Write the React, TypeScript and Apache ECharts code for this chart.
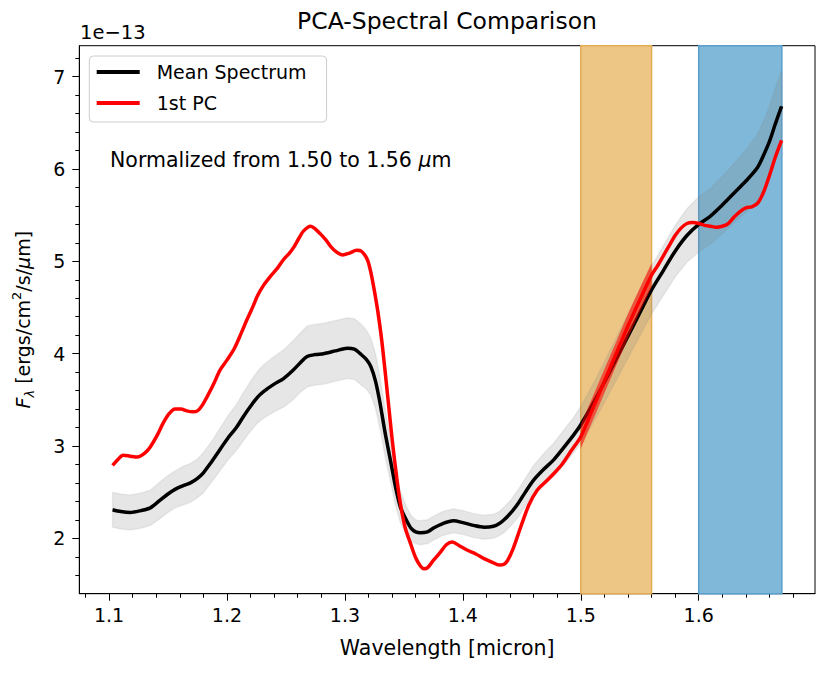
import React, { useEffect, useRef } from "react";
import * as echarts from "echarts";

// Mean spectrum (black) – wavelength [micron], flux [1e-13], 1-sigma half width
const meanWl = [1.103, 1.110, 1.118, 1.127, 1.135, 1.143, 1.150, 1.156, 1.163, 1.169, 1.175, 1.180, 1.187, 1.194, 1.201, 1.208, 1.214, 1.220, 1.226, 1.231, 1.240, 1.248, 1.256, 1.262, 1.268, 1.275, 1.282, 1.292, 1.302, 1.308, 1.313, 1.318, 1.322, 1.326, 1.330, 1.334, 1.339, 1.343, 1.347, 1.352, 1.356, 1.360, 1.364, 1.370, 1.375, 1.383, 1.392, 1.400, 1.409, 1.418, 1.426, 1.431, 1.435, 1.441, 1.447, 1.453, 1.460, 1.468, 1.477, 1.486, 1.494, 1.500, 1.510, 1.520, 1.530, 1.540, 1.550, 1.560, 1.570, 1.580, 1.590, 1.600, 1.610, 1.620, 1.630, 1.640, 1.650, 1.655, 1.660, 1.665, 1.6703];
const meanFlux = [2.31, 2.29, 2.28, 2.30, 2.33, 2.41, 2.48, 2.53, 2.57, 2.60, 2.65, 2.71, 2.83, 2.96, 3.09, 3.20, 3.32, 3.43, 3.53, 3.59, 3.67, 3.73, 3.82, 3.90, 3.97, 3.99, 4.00, 4.03, 4.06, 4.05, 4.00, 3.94, 3.86, 3.70, 3.45, 3.15, 2.82, 2.55, 2.34, 2.20, 2.11, 2.07, 2.06, 2.07, 2.11, 2.16, 2.19, 2.17, 2.14, 2.12, 2.13, 2.16, 2.20, 2.28, 2.38, 2.50, 2.63, 2.74, 2.85, 2.99, 3.12, 3.23, 3.45, 3.69, 3.94, 4.19, 4.44, 4.69, 4.90, 5.11, 5.28, 5.40, 5.49, 5.61, 5.74, 5.87, 6.02, 6.15, 6.30, 6.49, 6.68];
const meanSigma = [0.19, 0.19, 0.19, 0.19, 0.19, 0.20, 0.20, 0.20, 0.21, 0.21, 0.21, 0.22, 0.22, 0.23, 0.24, 0.25, 0.26, 0.27, 0.28, 0.29, 0.30, 0.31, 0.32, 0.32, 0.33, 0.33, 0.33, 0.33, 0.33, 0.33, 0.33, 0.32, 0.31, 0.30, 0.28, 0.26, 0.23, 0.20, 0.17, 0.15, 0.14, 0.13, 0.13, 0.13, 0.13, 0.13, 0.13, 0.13, 0.13, 0.13, 0.13, 0.13, 0.14, 0.14, 0.15, 0.15, 0.16, 0.17, 0.18, 0.19, 0.19, 0.20, 0.21, 0.22, 0.23, 0.24, 0.25, 0.26, 0.27, 0.28, 0.29, 0.30, 0.30, 0.31, 0.32, 0.34, 0.36, 0.37, 0.38, 0.39, 0.39];

// First principal component (red)
const pcWl = [1.103, 1.108, 1.112, 1.118, 1.124, 1.130, 1.135, 1.141, 1.146, 1.151, 1.156, 1.161, 1.166, 1.171, 1.175, 1.179, 1.183, 1.189, 1.194, 1.200, 1.206, 1.212, 1.217, 1.222, 1.226, 1.231, 1.237, 1.243, 1.248, 1.253, 1.257, 1.261, 1.265, 1.271, 1.275, 1.279, 1.284, 1.288, 1.293, 1.298, 1.304, 1.310, 1.314, 1.319, 1.322, 1.325, 1.328, 1.331, 1.334, 1.337, 1.340, 1.344, 1.347, 1.351, 1.356, 1.360, 1.364, 1.367, 1.370, 1.375, 1.381, 1.386, 1.391, 1.397, 1.404, 1.411, 1.418, 1.425, 1.431, 1.435, 1.438, 1.443, 1.449, 1.456, 1.463, 1.470, 1.477, 1.484, 1.492, 1.500, 1.510, 1.520, 1.530, 1.540, 1.550, 1.560, 1.565, 1.570, 1.575, 1.580, 1.585, 1.590, 1.595, 1.600, 1.605, 1.610, 1.615, 1.620, 1.625, 1.630, 1.635, 1.640, 1.645, 1.650, 1.655, 1.660, 1.665, 1.6703];
const pcFlux = [2.79, 2.86, 2.90, 2.89, 2.88, 2.92, 2.99, 3.12, 3.25, 3.35, 3.40, 3.40, 3.38, 3.37, 3.38, 3.44, 3.53, 3.68, 3.82, 3.93, 4.05, 4.22, 4.37, 4.51, 4.63, 4.74, 4.84, 4.93, 5.02, 5.09, 5.16, 5.25, 5.33, 5.38, 5.35, 5.30, 5.23, 5.16, 5.10, 5.07, 5.09, 5.12, 5.11, 5.02, 4.88, 4.68, 4.45, 4.17, 3.82, 3.45, 3.08, 2.65, 2.38, 2.12, 1.93, 1.79, 1.70, 1.67, 1.68, 1.76, 1.85, 1.93, 1.96, 1.92, 1.87, 1.83, 1.78, 1.74, 1.71, 1.72, 1.76, 1.90, 2.12, 2.36, 2.52, 2.61, 2.70, 2.80, 2.95, 3.10, 3.40, 3.70, 4.00, 4.30, 4.58, 4.85, 4.95, 5.06, 5.17, 5.28, 5.36, 5.41, 5.42, 5.41, 5.39, 5.38, 5.37, 5.38, 5.41, 5.48, 5.54, 5.58, 5.59, 5.63, 5.75, 5.93, 6.13, 6.31];

// 1st PC uncertainty band, only shown over the normalisation window
const pcBandWl = [1.500, 1.510, 1.520, 1.530, 1.540, 1.550, 1.560];
const pcBandLo = [2.97, 3.27, 3.57, 3.87, 4.17, 4.45, 4.72];
const pcBandHi = [3.23, 3.53, 3.83, 4.13, 4.43, 4.71, 4.98];

// Shaded wavelength windows
const normWindow = [1.50, 1.56];
const fitWindow = [1.60, 1.6705];

// Axis ticks / ranges
const xTickValues = [1.1, 1.2, 1.3, 1.4, 1.5, 1.6];
const yTickValues = [2, 3, 4, 5, 6, 7];
const xRange = [1.0748, 1.6986];
const yRange = [1.40, 7.336];

const FONT = "'DejaVu Sans', sans-serif";

function bandSeries(wl: number[], lo: number[], hi: number[], style: any, z: number) {
  return {
    type: "custom",
    silent: true,
    z,
    clip: true,
    data: [[wl[0], lo[0]]],
    renderItem: (params: any, api: any) => {
      if (params.dataIndex !== 0) return null;
      const pts: number[][] = [];
      for (let i = 0; i < wl.length; i++) pts.push(api.coord([wl[i], hi[i]]));
      for (let i = wl.length - 1; i >= 0; i--) pts.push(api.coord([wl[i], lo[i]]));
      return { type: "polygon", shape: { points: pts }, style };
    },
  };
}

export default function App() {
  const ref = useRef<HTMLDivElement>(null);

  useEffect(() => {
    document.body.style.margin = "0";
    const chart = echarts.init(ref.current!, null, { renderer: "svg" });

    const meanLo = meanWl.map((_, i) => +(meanFlux[i] - meanSigma[i]).toFixed(3));
    const meanHi = meanWl.map((_, i) => +(meanFlux[i] + meanSigma[i]).toFixed(3));
    const meanLine = meanWl.map((x, i) => [x, meanFlux[i]]);
    const pcLine = pcWl.map((x, i) => [x, pcFlux[i]]);

    const option: any = {
      animation: false,
      backgroundColor: "#fff",
      textStyle: { fontFamily: FONT },
      grid: {
        left: 79.3,
        right: 15,
        top: 45.7,
        bottom: 80.3,
        show: true,
        borderColor: "#000",
        borderWidth: 1,
        backgroundColor: "transparent",
      },
      legend: {
        data: ["Mean Spectrum", "1st PC"],
        orient: "vertical",
        left: 89.3,
        top: 56,
        icon: "rect",
        itemWidth: 43,
        itemHeight: 4,
        itemGap: 9,
        padding: [5, 20, 8, 7.4],
        backgroundColor: "rgba(255,255,255,0.8)",
        borderColor: "#cccccc",
        borderWidth: 1,
        borderRadius: 4,
        itemStyle: { borderWidth: 0 },
        textStyle: {
          fontFamily: FONT,
          fontSize: 19,
          color: "#000",
          lineHeight: 22,
          padding: [0, 0, 0, 12],
        },
      },
      xAxis: {
        type: "value",
        min: xRange[0],
        max: xRange[1],
        splitLine: { show: false },
        axisLine: { show: true, onZero: false, lineStyle: { color: "#000", width: 1 } },
        axisTick: {
          show: true,
          length: 7,
          customValues: xTickValues,
          lineStyle: { color: "#000", width: 1 },
        },
        minorTick: { show: true, splitNumber: 5, length: 4, lineStyle: { color: "#000", width: 1 } },
        axisLabel: {
          customValues: xTickValues,
          fontFamily: FONT,
          fontSize: 19,
          color: "#000",
          margin: 12,
          formatter: (v: number) => v.toFixed(1),
        },
        name: "Wavelength [micron]",
        nameLocation: "middle",
        nameGap: 44,
        nameTextStyle: { fontFamily: FONT, fontSize: 20.5, color: "#000" },
      },
      yAxis: {
        type: "value",
        min: yRange[0],
        max: yRange[1],
        splitLine: { show: false },
        axisLine: { show: true, onZero: false, lineStyle: { color: "#000", width: 1 } },
        axisTick: {
          show: true,
          length: 7,
          customValues: yTickValues,
          lineStyle: { color: "#000", width: 1 },
        },
        minorTick: { show: true, splitNumber: 5, length: 4, lineStyle: { color: "#000", width: 1 } },
        axisLabel: {
          customValues: yTickValues,
          fontFamily: FONT,
          fontSize: 19,
          color: "#000",
          margin: 14,
          formatter: (v: number) => String(Math.round(v)),
        },
        name: "{i|F}{sub|λ}{n| [ergs/cm}{sup|2}{n|/s/}{i|μ}{n|m]}",
        nameLocation: "middle",
        nameRotate: 90,
        nameGap: 43,
        nameTextStyle: {
          fontFamily: FONT,
          color: "#000",
          rich: {
            n: { fontFamily: FONT, fontSize: 19, lineHeight: 26, color: "#000", verticalAlign: "middle" },
            i: { fontFamily: FONT, fontSize: 19, lineHeight: 26, color: "#000", fontStyle: "italic", verticalAlign: "middle" },
            sub: { fontFamily: FONT, fontSize: 13, lineHeight: 12, color: "#000", fontStyle: "italic", verticalAlign: "bottom" },
            sup: { fontFamily: FONT, fontSize: 13, lineHeight: 14, color: "#000", verticalAlign: "top" },
          },
        },
      },
      graphic: [
        {
          type: "text",
          x: 447,
          y: 21,
          style: {
            text: "PCA-Spectral Comparison",
            fontFamily: FONT,
            fontSize: 23.5,
            fill: "#000",
            textAlign: "center",
            textVerticalAlign: "middle",
          },
        },
        {
          type: "text",
          x: 80,
          y: 32,
          style: {
            text: "1e\u221213",
            fontFamily: FONT,
            fontSize: 19.5,
            fill: "#000",
            textAlign: "left",
            textVerticalAlign: "middle",
          },
        },
        {
          type: "text",
          x: 110,
          y: 160,
          z: 10,
          style: {
            text: "{n|Normalized from 1.50 to 1.56 }{i|μ}{n|m}",
            fontFamily: FONT,
            fontSize: 20.5,
            fill: "#000",
            textAlign: "left",
            textVerticalAlign: "middle",
            rich: {
              n: { fontFamily: FONT, fontSize: 20.5, fill: "#000" },
              i: { fontFamily: FONT, fontSize: 20.5, fill: "#000", fontStyle: "italic" },
            },
          },
        },
      ],
      series: [
        bandSeries(
          meanWl,
          meanLo,
          meanHi,
          { fill: "rgba(128,128,128,0.2)", stroke: "rgba(128,128,128,0.12)", lineWidth: 1.5 },
          2
        ),
        {
          name: "Mean Spectrum",
          type: "line",
          data: meanLine,
          symbol: "none",
          smooth: 0.3,
          color: "#000",
          itemStyle: { color: "#000" },
          lineStyle: { color: "#000", width: 3.5 },
          z: 3,
          markArea: {
            silent: true,
            data: [
              [
                {
                  xAxis: normWindow[0],
                  itemStyle: { color: "#EDC686", borderColor: "#E3AC52", borderWidth: 1.5 },
                },
                { xAxis: normWindow[1] },
              ],
              [
                {
                  xAxis: fitWindow[0],
                  itemStyle: { color: "#7FB8D8", borderColor: "#5A9FCB", borderWidth: 1.5 },
                },
                { xAxis: fitWindow[1] },
              ],
            ],
          },
        },
        bandSeries(pcBandWl, pcBandLo, pcBandHi, { fill: "rgba(255,0,0,0.55)" }, 4),
        {
          name: "1st PC",
          type: "line",
          data: pcLine,
          symbol: "none",
          smooth: 0.3,
          color: "#ff0000",
          itemStyle: { color: "#ff0000" },
          lineStyle: { color: "#ff0000", width: 3.5 },
          z: 5,
        },
      ],
    };

    chart.setOption(option);
    return () => chart.dispose();
  }, []);

  return (
    <div
      ref={ref}
      style={{ position: "absolute", left: 0, top: 0, width: 830, height: 674 }}
    />
  );
}
